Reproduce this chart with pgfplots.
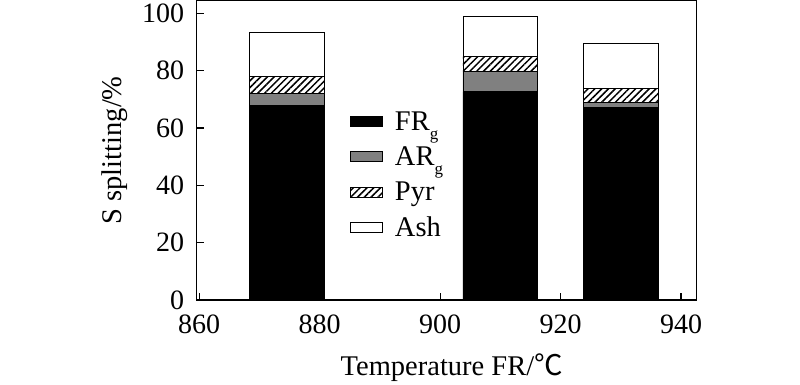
\documentclass[border=0pt]{standalone}
\usepackage{pgfplots}
\pgfplotsset{compat=1.18}
\usepackage{fontspec}
\setmainfont{Liberation Serif}
\newfontfamily\cjk{Noto Sans CJK SC}
\usetikzlibrary{patterns.meta}
\definecolor{argray}{RGB}{128,128,128}
\newcommand{\sub}[1]{\raisebox{-9pt}{\fontsize{17}{18}\selectfont #1}}
\begin{document}
\begin{tikzpicture}
\useasboundingbox (-196.7pt,-85pt) rectangle (603.3pt,300pt);
\begin{axis}[
  at={(0pt,0pt)}, anchor=south west,
  scale only axis, width=500pt, height=299.3pt,
  xmin=859.6, xmax=942.6, ymin=0, ymax=104.4,
  xtick={860,880,900,920,940}, ytick={0,20,40,60,80,100},
  tick align=inside, xtick pos=left, ytick pos=left,
  major tick length=7pt,
  axis line style={line width=1.1pt},
  every tick/.style={line width=1.1pt, black},
  ybar stacked, bar width=12.4,
  font=\fontsize{28.5}{33}\selectfont,
  tick label style={font=\fontsize{28}{32}\selectfont, inner sep=0pt},
  /pgf/number format/assume math mode=true,
  xticklabel style={/pgf/number format/1000 sep={}, yshift=-14.5pt},
  yticklabel style={xshift=-12.3pt},
  xlabel={Temperature FR/{\cjk ℃}},
  ylabel={S splitting/\%},
  xlabel style={at={(axis description cs:0.51,0)}, anchor=base, yshift=-75pt},
  ylabel style={at={(axis description cs:-0.1634,0.5)}, anchor=center},
  legend style={draw=none, fill=none, at={(axis description cs:0.3066,0.637)}, anchor=north west, inner sep=0pt, row sep=11pt,
    /tikz/every odd column/.append style={column sep=10pt}},
  legend cell align=left,
  legend image code/.code={\draw[#1,line width=0.8pt] (0pt,-5pt) rectangle (32pt,5pt);},
]
\addplot[fill=black, draw=black, line width=0.8pt] coordinates {(874.6,67.8) (910,72.7) (930,67.1)};
\addplot[fill=argray, draw=black, line width=0.8pt] coordinates {(874.6,4.4) (910,7.0) (930,1.7)};
\addplot[pattern={Lines[angle=45,distance=4.8pt,line width=1.5pt]}, draw=black, line width=0.8pt] coordinates {(874.6,5.8) (910,5.2) (930,4.9)};
\addplot[fill=white, draw=black, line width=0.8pt] coordinates {(874.6,15.4) (910,14.1) (930,15.9)};
\legend{FR\sub{g}, AR\sub{g}, Pyr, Ash}
\end{axis}
\end{tikzpicture}
\end{document}
